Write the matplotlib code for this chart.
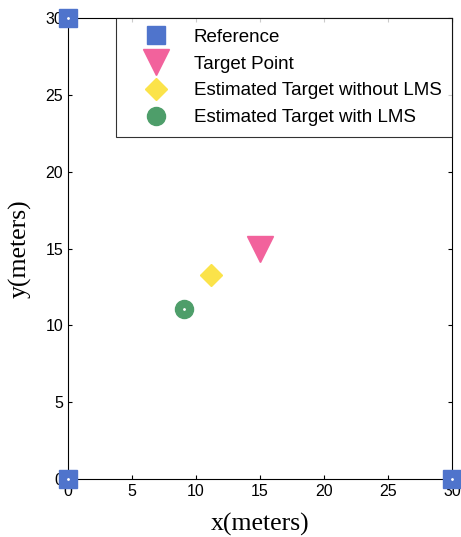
import matplotlib.pyplot as plt

# anchor nodes and target positions (meters)
ref_x = [0, 0, 30]
ref_y = [0, 30, 0]
target = (15, 15)
est_no_lms = (11.2, 13.3)
est_lms = (9.1, 11.1)

ticks = [0, 5, 10, 15, 20, 25, 30]

plt.rcParams['font.family'] = ['Liberation Sans', 'DejaVu Sans']

fig = plt.figure(figsize=(4.61, 5.37), dpi=100)
ax = fig.add_axes([0.1475, 0.108, 0.833, 0.858])

ax.plot(ref_x, ref_y, 's', color='#4f74cc', ms=13, mec='#4f74cc',
        clip_on=False, zorder=5, label='Reference')
ax.plot(*target, 'v', color='#f2629c', ms=19, mec='#f2629c',
        clip_on=False, zorder=5, label='Target Point')
ax.plot(*est_no_lms, 'D', color='#fbe34a', ms=11, mec='#fbe34a',
        clip_on=False, zorder=5, label='Estimated Target without LMS')
ax.plot(*est_lms, 'o', color='#4e9e6a', ms=13, mec='#4e9e6a',
        clip_on=False, zorder=5, label='Estimated Target with LMS')

# small white centre dots on the markers
for x, y in zip(ref_x + [est_lms[0]], ref_y + [est_lms[1]]):
    ax.plot(x, y, '.', color='white', ms=2, clip_on=False, zorder=6)

ax.set_xlim(0, 30)
ax.set_ylim(0, 30)
ax.set_xticks(ticks)
ax.set_yticks(ticks)
ax.tick_params(direction='in', top=True, right=True, labelsize=11.5, length=3, width=0.8)
for s in ax.spines.values():
    s.set_linewidth(0.8)

ax.set_xlabel('x(meters)', family='Liberation Serif', fontsize=18.5, labelpad=10)
ax.set_ylabel('y(meters)', family='Liberation Serif', fontsize=18.5)
ax.yaxis.set_label_coords(-0.095, 0.5)

leg = ax.legend(loc='upper right', fontsize=13.5, frameon=True, fancybox=False,
                edgecolor='black', borderaxespad=0, handletextpad=0.4,
                labelspacing=0.52, borderpad=0.55, handlelength=3.2,
                markerscale=1.0)
leg.get_frame().set_linewidth(0.8)

fig.savefig('out.png', dpi=100)
